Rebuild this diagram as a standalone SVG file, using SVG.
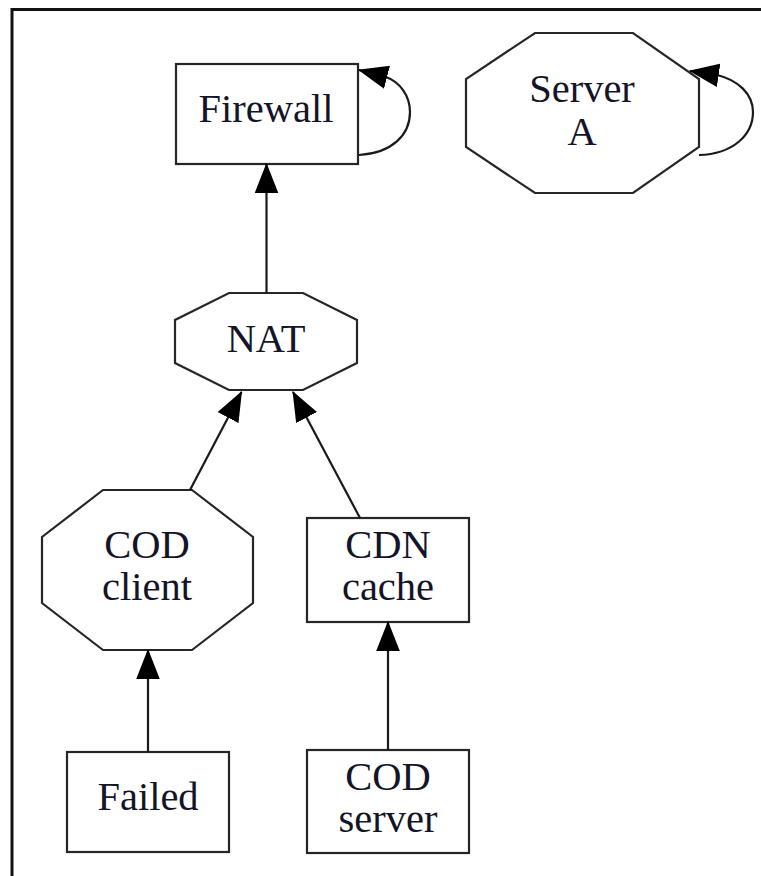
<svg xmlns="http://www.w3.org/2000/svg" width="761" height="876" viewBox="0 0 761 876">
<defs>
<style>
.node{fill:#fff;stroke:#262626;stroke-width:2.2}
.lbl{font-family:"Liberation Serif","Times New Roman",serif;font-size:40.5px;fill:#141428;text-anchor:middle}
.edge{fill:none;stroke:#1a1a1a;stroke-width:2.2}
.frame{fill:none;stroke:#111;stroke-width:3}
</style>
<marker id="arr" markerUnits="userSpaceOnUse" markerWidth="30" markerHeight="24" viewBox="0 0 28 22" refX="27" refY="11" orient="auto">
<path d="M0,0 L28,11 L0,22 z" fill="#000"/>
</marker>
</defs>
<rect width="761" height="876" fill="#fff"/>
<path class="frame" d="M12,876 L12,9.5 L761,9.5"/>

<g id="firewall">
<rect class="node" x="176" y="64" width="182" height="100"/>
<text class="lbl" x="266" y="122">Firewall</text>
</g>
<g id="serverA">
<polygon class="node" points="535,33 633,33 699,79 699,147 633,193 535,193 466,147 466,79"/>
<text class="lbl" x="582" y="102">Server</text>
<text class="lbl" x="582" y="145">A</text>
</g>
<g id="nat">
<polygon class="node" points="229,293 303,293 357,320 357,363 303,390 229,390 175,363 175,320"/>
<text class="lbl" x="266" y="352">NAT</text>
</g>
<g id="codClient">
<polygon class="node" points="103,490 192,490 253,537 253,603 192,650 103,650 42,603 42,537"/>
<text class="lbl" x="147" y="558">COD</text>
<text class="lbl" x="147" y="600">client</text>
</g>
<g id="cdnCache">
<rect class="node" x="307" y="518" width="162" height="104"/>
<text class="lbl" x="388" y="558">CDN</text>
<text class="lbl" x="388" y="600">cache</text>
</g>
<g id="failed">
<rect class="node" x="67" y="752" width="162" height="100"/>
<text class="lbl" x="148" y="810">Failed</text>
</g>
<g id="codServer">
<rect class="node" x="307" y="750" width="162" height="103"/>
<text class="lbl" x="388" y="790">COD</text>
<text class="lbl" x="388" y="832">server</text>
</g>

<g id="edges">
<path class="edge" marker-end="url(#arr)" d="M359,155 C392,153 410,135 410,112 C410,96 400,82 386,77 L359,70"/>
<path class="edge" marker-end="url(#arr)" d="M699,155 C733,154 753,135 753,112 C753,94 738,80 717,75 L690,71"/>
<path class="edge" marker-end="url(#arr)" d="M266.5,293 L266.5,164"/>
<path class="edge" marker-end="url(#arr)" d="M190,490 L241.5,392"/>
<path class="edge" marker-end="url(#arr)" d="M360,518 L293,392"/>
<path class="edge" marker-end="url(#arr)" d="M148,752 L148,650"/>
<path class="edge" marker-end="url(#arr)" d="M388,750 L388,622"/>
</g>
</svg>
